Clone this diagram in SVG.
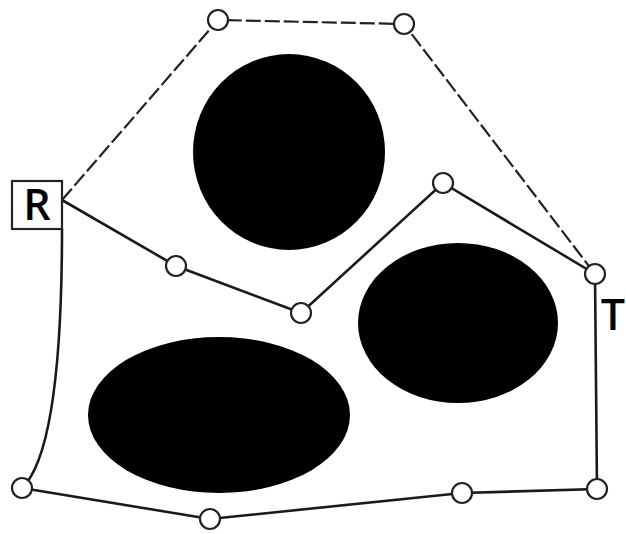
<svg xmlns="http://www.w3.org/2000/svg" width="626" height="534" viewBox="0 0 626 534">
<style>
.n{fill:#fff;stroke:#222;stroke-width:2.2}
.e{stroke:#1a1a1a;stroke-width:2.6;fill:none}
.d{stroke:#222;stroke-width:2.2;fill:none;stroke-dasharray:15 4}
.o{fill:#000}
.t{font-family:"Open Sans","DejaVu Sans",sans-serif;font-size:43px;font-weight:600;fill:#000}
</style>
<rect width="626" height="534" fill="#fff"/>
<g id="obstacles">
<ellipse class="o" cx="289" cy="152" rx="96" ry="98"/>
<ellipse class="o" cx="458" cy="323" rx="100" ry="80"/>
<ellipse class="o" cx="219" cy="415" rx="131" ry="78"/>
</g>
<g id="connectors">
<path class="d" d="M62 200 L218 20 L404 24 L595 274"/>
<path class="e" d="M62 200 L176 266 L301 313 L443 183 L595 274"/>
<path class="e" d="M595 274 L597 489 L462 493 L210 519 L22 488"/>
<path class="e" d="M22 488 Q62 450 62 229"/>
</g>
<g id="R">
<rect x="12" y="181" width="50" height="48" fill="#fff" stroke="#222" stroke-width="2.2"/>
<text class="t" x="37" y="220" text-anchor="middle">R</text>
</g>
<g id="T"><text class="t" x="613" y="330" text-anchor="middle">T</text></g>
<g id="n1"><circle class="n" cx="218" cy="20" r="10"/></g>
<g id="n2"><circle class="n" cx="404" cy="24" r="10"/></g>
<g id="n3"><circle class="n" cx="443" cy="183" r="10"/></g>
<g id="n4"><circle class="n" cx="595" cy="274" r="10"/></g>
<g id="n5"><circle class="n" cx="176" cy="266" r="10"/></g>
<g id="n6"><circle class="n" cx="301" cy="313" r="10"/></g>
<g id="n7"><circle class="n" cx="22" cy="488" r="10"/></g>
<g id="n8"><circle class="n" cx="210" cy="519" r="10"/></g>
<g id="n9"><circle class="n" cx="462" cy="493" r="10"/></g>
<g id="n10"><circle class="n" cx="597" cy="489" r="10"/></g>
</svg>
